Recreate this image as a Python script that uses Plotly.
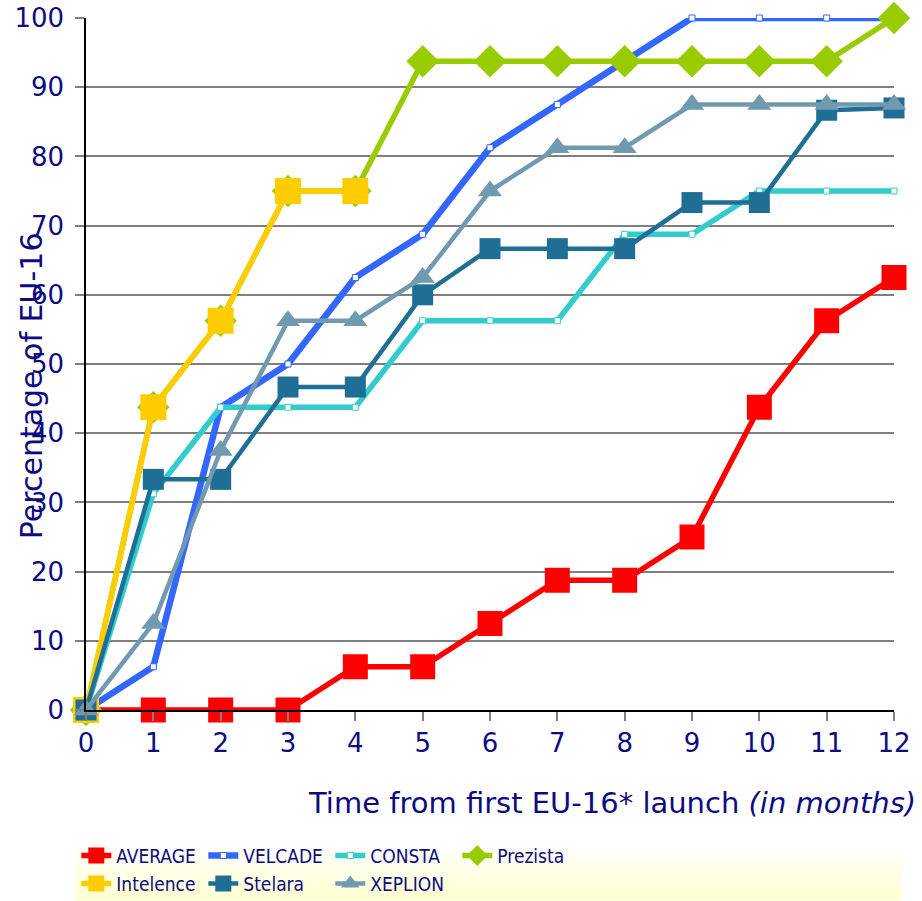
import plotly.graph_objects as go

months = list(range(13))
x_ticks = [str(m) for m in months]
y_ticks = [0, 10, 20, 30, 40, 50, 60, 70, 80, 90, 100]

average   = [0, 0, 0, 0, 6.25, 6.25, 12.5, 18.75, 18.75, 25, 43.75, 56.25, 62.5]
velcade   = [0, 6.25, 43.75, 50, 62.5, 68.75, 81.25, 87.5, 93.75, 100, 100, 100, 100]
consta    = [0, 31.25, 43.75, 43.75, 43.75, 56.25, 56.25, 56.25, 68.75, 68.75, 75, 75, 75]
prezista  = [0, 43.75, 56.25, 75, 75, 93.75, 93.75, 93.75, 93.75, 93.75, 93.75, 93.75, 100]
intelence = [0, 43.75, 56.25, 75, 75]
stelara   = [0, 33.33, 33.33, 46.67, 46.67, 60, 66.67, 66.67, 66.67, 73.33, 73.33, 86.67, 87]
xeplion   = [0, 12.5, 37.5, 56.25, 56.25, 62.5, 75, 81.25, 81.25, 87.5, 87.5, 87.5, 87.5]

NAVY = "#0C0C80"
FONT = "DejaVu Sans"

series = [
    ("AVERAGE", average, "#FF0000", 5.5, dict(symbol="square", size=25, color="#FF0000"), "legend"),
    ("VELCADE", velcade, "#3366FF", 6.5, dict(symbol="square", size=6, color="white",
                                              line=dict(color="#3366FF", width=1)), "legend"),
    ("CONSTA", consta, "#33CCCC", 5.5, dict(symbol="square", size=6, color="white",
                                            line=dict(color="#33CCCC", width=1)), "legend"),
    ("Prezista", prezista, "#99CC00", 5.5, dict(symbol="diamond", size=25, color="#99CC00"), "legend"),
    ("Intelence", intelence, "#FFCC00", 5.5, dict(symbol="square", size=26, color="#FFCC00"), "legend2"),
    ("Stelara", stelara, "#1F6E96", 4.5, dict(symbol="square", size=21, color="#1F6E96"), "legend2"),
    ("XEPLION", xeplion, "#6F9AAF", 4.5, dict(symbol="triangle-up", size=21, color="#6F9AAF"), "legend2"),
]

fig = go.Figure()
for name, vals, color, w, marker, lg in series:
    fig.add_trace(go.Scatter(
        x=months[:len(vals)], y=vals, name=name, mode="lines+markers",
        line=dict(color=color, width=w), marker=marker, cliponaxis=False,
        legend=lg,
    ))

# legend background with a soft white-to-yellow gradient
bands = ["#FFFFFF", "#FFFFF6", "#FFFFF0", "#FFFFEA", "#FFFFE4", "#FFFFDE", "#FFFFD8", "#FFFFD4"]
y_top, y_bot = -0.192, -0.275
step = (y_top - y_bot) / len(bands)
for i, c in enumerate(bands):
    fig.add_shape(type="rect", xref="paper", yref="paper",
                  x0=-0.014, x1=1.01, y0=y_top - (i + 1) * step, y1=y_top - i * step,
                  line=dict(width=0), fillcolor=c, layer="below")

legend_common = dict(orientation="h", x=-0.012, xanchor="left", yanchor="top",
                     bgcolor="rgba(0,0,0,0)", entrywidth=82, entrywidthmode="pixels",
                     font=dict(size=19, color=NAVY,
                               family="Liberation Sans Narrow, DejaVu Sans Condensed, Arial"),
                     itemwidth=30, tracegroupgap=0)

fig.update_layout(
    width=922, height=901,
    margin=dict(l=86, r=28, t=18, b=191, autoexpand=False),
    plot_bgcolor="white", paper_bgcolor="white",
    font=dict(family=FONT, color=NAVY),
    xaxis=dict(range=[0, 12], tickvals=months, ticktext=x_ticks, automargin=False,
               showgrid=False, showline=True, linecolor="black", linewidth=1.5,
               ticks="outside", ticklen=9, tickcolor="#808080", tickwidth=1.5,
               tickfont=dict(size=26, color=NAVY, family=FONT), zeroline=False),
    yaxis=dict(range=[0, 100], tickvals=y_ticks, automargin=False,
               showgrid=True, gridcolor="#7F7F7F", gridwidth=1.5,
               showline=True, linecolor="black", linewidth=1.5,
               ticks="outside", ticklen=9, tickcolor="#7F7F7F", tickwidth=1.5,
               ticklabelstandoff=6,
               tickfont=dict(size=26, color=NAVY, family=FONT), zeroline=False),
    legend=dict(y=-0.183, **legend_common),
    legend2=dict(y=-0.2235, **legend_common),
    showlegend=True,
)

fig.add_annotation(text="Time from first EU-16* launch <i>(in months)</i>",
                   xref="paper", yref="paper", x=1.03, y=-0.135,
                   xanchor="right", yanchor="middle", showarrow=False,
                   font=dict(size=29, color=NAVY, family=FONT))
fig.add_annotation(text="Percentage of EU-16", textangle=-90,
                   xref="paper", yref="paper", x=-0.068, y=0.468,
                   xanchor="center", yanchor="middle", showarrow=False,
                   font=dict(size=30, color=NAVY, family=FONT))

fig.write_html("out.html", config={"displayModeBar": False},
               post_script="document.body.style.margin='0';document.body.style.padding='0';")
